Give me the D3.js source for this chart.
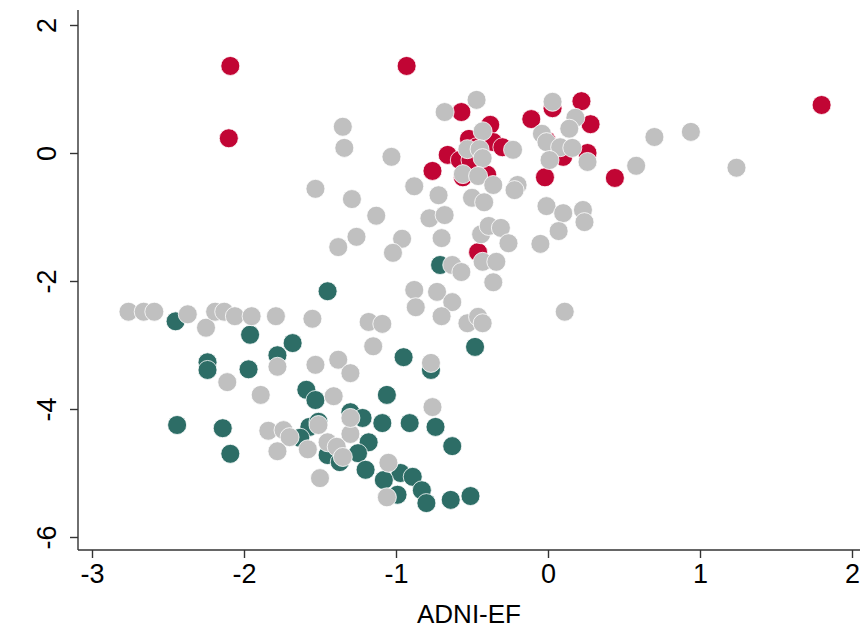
<!DOCTYPE html>
<html>
<head>
<meta charset="utf-8">
<script src="https://cdn.jsdelivr.net/npm/d3@7"></script>
<style>
    body { margin: 0; background: #fff; }
    text { font-family: "Liberation Sans", Arial, sans-serif; fill: #000; }
</style>
</head>
<body>
<div class="chart"></div>
<script>
'use strict';

const W = 861;
const H = 631;

const xTicks = [-3, -2, -1, 0, 1, 2];
const yTicks = [-6, -4, -2, 0, 2];
const xLabel = 'ADNI-EF';

// [ADNI-EF, y] pairs
const grayPoints = [
    [-2.76, -2.48], [-2.66, -2.48], [-2.59, -2.48], [-2.37, -2.52], [-2.25, -2.73],
    [-2.19, -2.48], [-2.13, -2.48], [-2.06, -2.55], [-1.95, -2.55], [-1.79, -2.55],
    [-1.55, -2.59], [-2.11, -3.58], [-1.89, -3.78], [-1.78, -3.34], [-1.53, -3.31],
    [-1.38, -3.23], [-1.30, -3.44], [-1.41, -3.80], [-1.84, -4.34], [-1.74, -4.33],
    [-1.70, -4.44], [-1.78, -4.66], [-1.58, -4.63], [-1.51, -4.25], [-1.45, -4.52],
    [-1.39, -4.59], [-1.35, -4.75], [-1.30, -4.39], [-1.30, -4.14], [-1.50, -5.08],
    [-1.05, -4.84], [-1.06, -5.38], [-1.18, -2.64], [-1.09, -2.67], [-1.15, -3.02],
    [-0.77, -3.28], [-0.76, -3.97], [-1.35, 0.41], [-1.34, 0.08], [-1.03, -0.06],
    [-1.53, -0.56], [-1.29, -0.72], [-1.13, -0.98], [-0.88, -0.52], [-1.26, -1.31],
    [-1.38, -1.47], [-0.96, -1.34], [-1.02, -1.56], [-0.78, -1.02], [-0.68, -0.97],
    [-0.72, -0.66], [-0.70, -1.33], [-0.50, -0.70], [-0.42, -0.77], [-0.44, -1.27],
    [-0.39, -1.14], [-0.31, -1.17], [-0.26, -1.41], [-0.63, -1.75], [-0.57, -1.86],
    [-0.43, -1.70], [-0.34, -1.70], [-0.36, -2.02], [-0.88, -2.14], [-0.73, -2.17],
    [-0.87, -2.41], [-0.63, -2.33], [-0.70, -2.55], [-0.53, -2.66], [-0.46, -2.56],
    [-0.43, -2.66], [-0.01, -0.83], [0.10, -0.94], [0.23, -0.89], [0.24, -1.08],
    [0.07, -1.22], [-0.05, -1.42], [0.11, -2.48], [-0.68, 0.64], [-0.47, 0.83],
    [-0.43, 0.34], [-0.53, 0.06], [-0.45, 0.06], [-0.43, -0.08], [-0.23, 0.05],
    [-0.56, -0.33], [-0.46, -0.36], [-0.36, -0.50], [-0.20, -0.50], [-0.22, -0.58],
    [0.03, 0.80], [0.18, 0.55], [0.14, 0.38], [-0.04, 0.30], [-0.01, 0.17],
    [0.08, 0.09], [0.16, 0.08], [0.01, -0.11], [0.26, -0.14], [0.70, 0.25],
    [0.94, 0.33], [0.58, -0.20], [1.24, -0.23]
];

const redPoints = [
    [-2.09, 1.36], [-2.10, 0.23], [-0.93, 1.36], [1.80, 0.75], [-0.57, 0.64],
    [-0.38, 0.44], [-0.52, 0.22], [-0.36, 0.17], [-0.30, 0.09], [-0.66, -0.03],
    [-0.58, -0.11], [-0.76, -0.28], [-0.56, -0.38], [-0.40, -0.34], [-0.11, 0.53],
    [0.03, 0.70], [0.22, 0.81], [0.28, 0.45], [-0.01, 0.20], [0.10, -0.06],
    [0.26, 0.00], [-0.02, -0.38], [0.44, -0.39], [-0.46, -1.55], [-0.47, 0.09],
    [-0.51, -0.11]
];

const greenPoints = [
    [-0.71, -1.75], [-1.45, -2.16], [-2.45, -2.63], [-1.96, -2.84], [-1.68, -2.97],
    [-2.24, -3.27], [-2.24, -3.39], [-1.78, -3.16], [-1.97, -3.38], [-0.95, -3.19],
    [-0.48, -3.03], [-0.77, -3.39], [-1.59, -3.70], [-1.53, -3.86], [-1.06, -3.78],
    [-1.30, -4.05], [-1.22, -4.14], [-1.09, -4.22], [-0.91, -4.22], [-0.74, -4.28],
    [-1.57, -4.28], [-1.51, -4.20], [-1.63, -4.45], [-1.45, -4.72], [-1.37, -4.83],
    [-1.18, -4.52], [-1.25, -4.69], [-1.20, -4.95], [-2.44, -4.25], [-2.14, -4.30],
    [-2.09, -4.70], [-0.63, -4.58], [-0.97, -5.00], [-0.89, -5.06], [-1.08, -5.11],
    [-0.99, -5.34], [-0.83, -5.27], [-0.80, -5.47], [-0.64, -5.42], [-0.51, -5.36]
];

const groups = [
    {points: redPoints, color: '#c10534'},
    {points: greenPoints, color: '#2d6d66'},
    {points: grayPoints, color: '#c0c0c0'}
];

const xScale = d3.scaleLinear().domain([-3, 2]).range([92, 852]);
const yScale = d3.scaleLinear().domain([-6, 2]).range([537, 25]);

const axisX = 78;   // position of the y axis line
const axisY = 550;  // position of the x axis line

// plain hyphen for negatives, like the original
const fmt = d => String(d);

function drawXAxis(svg) {
    const g = svg.append('g')
        .attr('transform', `translate(0,${axisY})`)
        .call(d3.axisBottom(xScale).tickValues(xTicks).tickSize(8).tickPadding(6).tickFormat(fmt));
    g.select('.domain').attr('d', `M${axisX},0H860`);
    g.selectAll('line, path').attr('stroke', '#333').attr('stroke-width', 1.4);
    g.selectAll('text').attr('font-size', 27).attr('font-family', null).attr('dy', '0.72em');

    svg.append('text')
        .attr('x', (axisX + 860) / 2)
        .attr('y', 623)
        .attr('text-anchor', 'middle')
        .attr('font-size', 26)
        .text(xLabel);
}

function drawYAxis(svg) {
    const g = svg.append('g')
        .attr('transform', `translate(${axisX},0)`)
        .call(d3.axisLeft(yScale).tickValues(yTicks).tickSize(8).tickFormat(fmt));
    g.select('.domain').attr('d', `M0,10V${axisY}`);
    g.selectAll('line, path').attr('stroke', '#333').attr('stroke-width', 1.4);
    g.selectAll('text')
        .attr('font-size', 27)
        .attr('font-family', null)
        .attr('x', null).attr('dy', null)
        .attr('text-anchor', 'middle')
        .attr('transform', 'translate(-22,0) rotate(-90)');
}

function drawPoints(svg) {
    groups.forEach(grp => {
        svg.append('g')
            .selectAll('circle')
            .data(grp.points)
            .join('circle')
            .attr('cx', d => xScale(d[0]))
            .attr('cy', d => yScale(d[1]))
            .attr('r', 9.5)
            .attr('fill', grp.color)
            .attr('stroke', '#fff')
            .attr('stroke-width', 0.8);
    });
}

function run() {
    const svg = d3.select('.chart').append('svg')
        .attr('width', W)
        .attr('height', H);

    drawPoints(svg);
    drawXAxis(svg);
    drawYAxis(svg);
}

run();
</script>
</body>
</html>
